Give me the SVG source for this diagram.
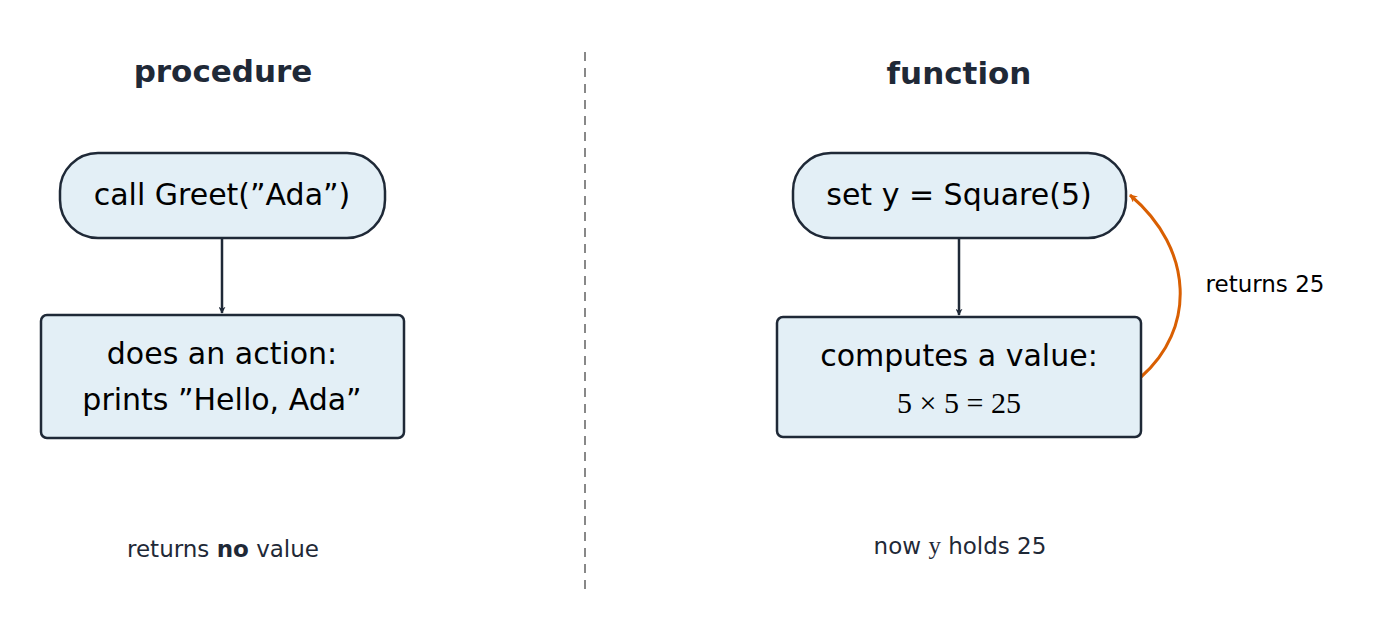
<svg xmlns="http://www.w3.org/2000/svg" width="1391" height="634" viewBox="0 0 1391 634">
<style>
text{font-family:"DejaVu Sans","Noto Sans",sans-serif;fill:#000;text-anchor:middle}
.title{font-weight:bold;font-size:31px;fill:#1f2937}
.box{fill:#e3eff6;stroke:#1f2937;stroke-width:2.5}
.lbl{font-size:30px}
.note{font-size:23px;fill:#1f2937}
.edge{stroke:#1f2937;stroke-width:2.5;fill:none}
.ret{stroke:#d95f02;stroke-width:3;fill:none}
.math{font-family:"Liberation Serif",serif}
</style>
<defs>
<marker id="ah" viewBox="0 0 10 10" refX="9" refY="5" markerWidth="7" markerHeight="7" orient="auto" markerUnits="userSpaceOnUse"><path d="M0,0 L10,5 L0,10 L3,5Z" fill="#1f2937"/></marker>
<marker id="ao" viewBox="0 0 10 10" refX="9" refY="5" markerWidth="8" markerHeight="8" orient="auto" markerUnits="userSpaceOnUse"><path d="M0,0 L10,5 L0,10 L3,5Z" fill="#d95f02"/></marker>
</defs>
<text class="title" x="223" y="82">procedure</text>
<text class="title" x="959" y="84">function</text>
<line x1="585" y1="52" x2="585" y2="594" stroke="#888" stroke-width="2" stroke-dasharray="9,7"/>
<g id="connectors">
<line class="edge" x1="222" y1="238" x2="222" y2="313" marker-end="url(#ah)"/>
<line class="edge" x1="959" y1="238" x2="959" y2="315" marker-end="url(#ah)"/>
<path class="ret" d="M1141,377 C1195,330 1195,250 1130,195" marker-end="url(#ao)"/>
<text x="1265" y="292" font-size="23">returns 25</text>
</g>
<g id="call"><rect class="box" x="60" y="153" width="325" height="85" rx="38"/><text class="lbl" x="222" y="205">call Greet(”Ada”)</text></g>
<g id="action"><rect class="box" x="41" y="315" width="363" height="123" rx="6"/><text class="lbl" x="222" y="364">does an action:</text><text class="lbl" x="222" y="410">prints ”Hello, Ada”</text></g>
<g id="set"><rect class="box" x="793" y="153" width="333" height="85" rx="38"/><text class="lbl" x="959" y="205">set y = Square(5)</text></g>
<g id="compute"><rect class="box" x="777" y="317" width="364" height="120" rx="6"/><text class="lbl" x="959" y="366">computes a value:</text><text class="lbl math" x="959" y="413" font-size="33">5 × 5 = 25</text></g>
<text class="note" x="223" y="557">returns <tspan font-weight="bold">no</tspan> value</text>
<text class="note" x="960" y="554">now <tspan class="math" font-size="25">y</tspan> holds 25</text>
</svg>
